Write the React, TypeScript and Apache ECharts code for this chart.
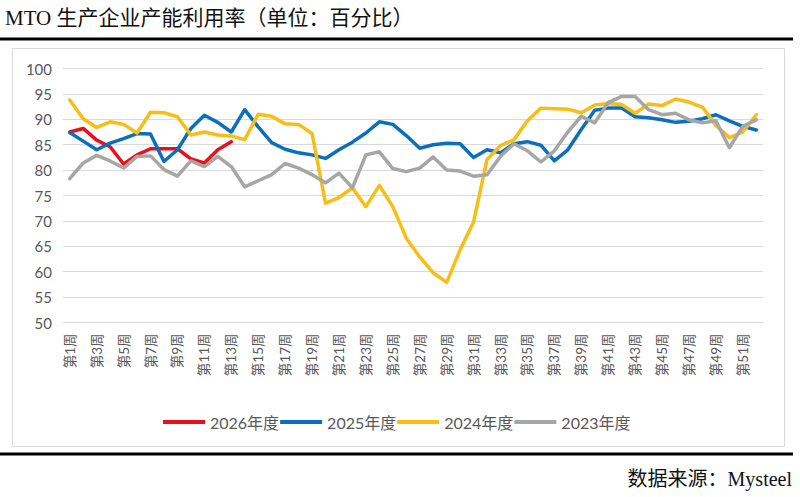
import { useEffect, useRef } from "react";
import * as echarts from "echarts";

// 周次
const weeks = Array.from({ length: 52 }, (_, i) => `第${i + 1}周`);

const seriesNames = ["2026年度", "2025年度", "2024年度", "2023年度"];
const seriesColors = ["#E8101A", "#0C6FBE", "#F7BE14", "#A6A6A6"];

const y2026 = [87.5, 88.2, 85.9, 84.6, 81.2, 83.0, 84.2, 84.2, 84.2, 82.2, 81.4, 84.0, 85.6];

const y2025 = [
  87.4, 85.7, 84.0, 85.3, 86.2, 87.2, 87.1, 81.7, 84.0, 88.2, 90.8, 89.4, 87.5,
  91.9, 88.5, 85.4, 84.1, 83.4, 83.0, 82.3, 84.0, 85.5, 87.3, 89.5, 89.0, 86.8,
  84.3, 85.0, 85.3, 85.2, 82.5, 84.0, 83.4, 85.2, 85.6, 84.9, 81.8, 84.0, 88.0,
  91.8, 92.2, 92.2, 90.5, 90.3, 89.9, 89.4, 89.6, 90.1, 90.9, 89.7, 88.6, 87.9,
];

const y2024 = [
  93.8, 90.1, 88.4, 89.5, 89.0, 87.3, 91.4, 91.3, 90.5, 86.9, 87.5, 86.9, 86.7,
  86.0, 91.0, 90.6, 89.1, 89.0, 87.2, 73.5, 74.6, 76.5, 72.8, 77.0, 72.8, 66.6,
  62.9, 59.8, 57.9, 64.3, 69.8, 82.1, 84.8, 86.0, 89.7, 92.2, 92.1, 92.0, 91.3,
  92.8, 93.1, 92.9, 91.2, 93.0, 92.7, 94.0, 93.4, 92.4, 88.8, 86.4, 87.5, 90.9,
];

const y2023 = [
  78.3, 81.4, 82.9, 81.8, 80.4, 82.7, 82.8, 80.1, 78.8, 81.8, 80.7, 82.7, 80.7,
  76.7, 77.9, 79.1, 81.3, 80.4, 79.1, 77.5, 79.4, 76.5, 83.0, 83.6, 80.3, 79.7,
  80.4, 82.6, 80.0, 79.8, 78.8, 79.1, 82.7, 85.2, 83.8, 81.6, 83.8, 87.5, 90.6,
  89.3, 93.3, 94.5, 94.5, 91.9, 90.9, 91.2, 89.9, 89.3, 89.7, 84.4, 88.6, 89.9,
];

const seriesData = [y2026, y2025, y2024, y2023];

const sansFont = "Lato, 'Noto Sans CJK SC', sans-serif";
const serifFont = "'Liberation Serif', 'Noto Sans CJK SC', serif";

function App() {
  const chartRef = useRef(null);

  useEffect(() => {
    document.body.style.margin = "0";
    const myChart = echarts.init(chartRef.current, null, { renderer: "svg" });

    const option = {
      animation: false,
      backgroundColor: "#fff",
      graphic: [
        {
          type: "text",
          x: 5,
          y: 7,
          style: {
            text: "MTO 生产企业产能利用率（单位：百分比）",
            fill: "#111",
            fontSize: 21,
            fontFamily: serifFont,
          },
        },
        {
          type: "rect",
          shape: { x: 0, y: 37.5, width: 793, height: 3 },
          style: { fill: "#000" },
        },
        {
          type: "rect",
          z: -1,
          shape: { x: 12.5, y: 48.5, width: 772, height: 398 },
          style: { fill: "#fff", stroke: "#D9D9D9", lineWidth: 1 },
        },
        {
          type: "rect",
          shape: { x: 0, y: 452.5, width: 793, height: 3 },
          style: { fill: "#000" },
        },
        {
          type: "text",
          x: 792,
          y: 479,
          style: {
            text: "数据来源：Mysteel",
            fill: "#111",
            fontSize: 20,
            fontFamily: serifFont,
            textAlign: "right",
            textVerticalAlign: "middle",
          },
        },
      ],
      color: seriesColors,
      legend: {
        data: seriesNames,
        left: 158,
        top: 409,
        icon: "rect",
        itemWidth: 42,
        itemHeight: 4,
        itemGap: 1,
        textStyle: { fontSize: 16, color: "#595959", fontFamily: sansFont },
      },
      grid: {
        left: 63,
        right: 37,
        top: 68.5,
        bottom: 174.5,
      },
      xAxis: {
        type: "category",
        data: weeks,
        boundaryGap: true,
        axisLine: { show: true, lineStyle: { color: "#D9D9D9" } },
        axisTick: { show: false },
        axisLabel: {
          interval: 1,
          rotate: 90,
          margin: 11,
          fontSize: 13.5,
          color: "#595959",
          fontFamily: sansFont,
        },
      },
      yAxis: {
        type: "value",
        min: 50,
        max: 100,
        interval: 5,
        axisLine: { show: false },
        axisTick: { show: false },
        axisLabel: {
          margin: 11,
          fontSize: 15,
          color: "#595959",
          fontFamily: sansFont,
        },
        splitLine: { lineStyle: { color: "#D9D9D9" } },
      },
      series: seriesNames.map((name, i) => ({
        name,
        type: "line",
        data: seriesData[i],
        symbol: "none",
        lineStyle: { width: 3.5, cap: "round", join: "round" },
      })),
    };

    myChart.setOption(option);

    return () => {
      myChart.dispose();
    };
  }, []);

  return <div ref={chartRef} style={{ width: "800px", height: "497px" }}></div>;
}

export default App;
